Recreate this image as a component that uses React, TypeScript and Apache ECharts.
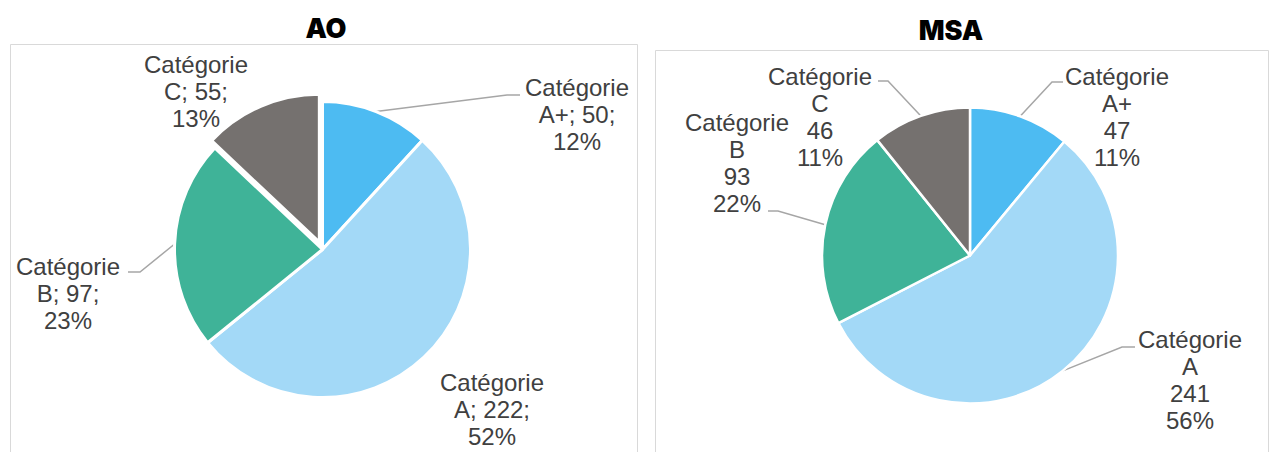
import React, { useEffect, useRef } from 'react';
import * as echarts from 'echarts';

const categories = ['Catégorie A+', 'Catégorie A', 'Catégorie B', 'Catégorie C'];
const aoValues = [50, 222, 97, 55];
const msaValues = [47, 241, 93, 46];
const chartTitles = ['AO', 'MSA'];
const sliceColors = ['#4dbbf2', '#a3d9f7', '#3fb398', '#75716f'];

// label layout per slice (pixels): label centre and leader-line bend points
const aoLabelPos = [
  { x: 577, y: 114, line: [[507, 95], [520, 95]] },
  { x: 492, y: 409, line: null },
  { x: 68, y: 293, line: [[140, 272], [128, 272]] },
  { x: 196, y: 91, line: null },
];
const msaLabelPos = [
  { x: 1117, y: 117, line: [[1052, 82], [1063, 82]] },
  { x: 1190, y: 380, line: [[1122, 347], [1135, 347]] },
  { x: 737, y: 163, line: [[778, 211], [768, 211]] },
  { x: 820, y: 117, line: [[888, 81], [878, 81]] },
];

const labelFont = {
  fontFamily: '"Liberation Sans", Arial, sans-serif',
  fontSize: 24,
  lineHeight: 27,
  color: '#404040',
};

export default function App() {
  const ref = useRef<HTMLDivElement>(null);
  useEffect(() => {
    if (!ref.current) return;
    const chart = echarts.init(ref.current, undefined, { renderer: 'svg' });

    const AO_CENTER: [number, number] = [322.5, 249.5];
    const MSA_CENTER: [number, number] = [970, 255.5];
    const RADIUS = 148;
    const EXPLODE = 8;
    const explodeIdx = 3;

    const makeSeries = (
      values: number[],
      center: [number, number],
      pos: typeof aoLabelPos,
      sep: string,
      borderWidth: number,
      hiddenIdx: number | null
    ) => ({
      type: 'pie',
      center,
      radius: RADIUS,
      startAngle: 90,
      clockwise: true,
      avoidLabelOverlap: false,
      itemStyle: { borderColor: '#ffffff', borderWidth },
      emphasis: { disabled: true },
      label: {
        show: true,
        position: 'outside',
        align: 'center',
        ...labelFont,
        formatter: (p: any) => {
          const cat = String(p.name).replace('Catégorie ', '');
          const pct = Math.round(p.percent);
          return sep === ';'
            ? `Catégorie\n${cat}; ${p.value};\n${pct}%`
            : `Catégorie\n${cat}\n${p.value}\n${pct}%`;
        },
      },
      labelLine: {
        show: true,
        smooth: false,
        lineStyle: { color: '#a6a6a6', width: 1.5 },
      },
      labelLayout: (params: any) => {
        const lp = pos[params.dataIndex];
        const res: any = {
          x: lp.x,
          y: lp.y,
          align: 'center',
          verticalAlign: 'middle',
        };
        if (lp.line && params.labelLinePoints) {
          res.labelLinePoints = [params.labelLinePoints[0], ...lp.line];
        }
        return res;
      },
      data: values.map((v, i) => ({
        name: categories[i],
        value: v,
        itemStyle:
          hiddenIdx === i
            ? { color: 'rgba(0,0,0,0)', borderWidth: 0 }
            : { color: sliceColors[i] },
        labelLine: { show: !!pos[i].line },
      })),
    });

    // exploded slice (AO, Catégorie C): same pie, shifted along its mid-angle
    const total = aoValues.reduce((a, b) => a + b, 0);
    const before = aoValues.slice(0, explodeIdx).reduce((a, b) => a + b, 0);
    const midFrac = (before + aoValues[explodeIdx] / 2) / total;
    const ang = midFrac * 2 * Math.PI;
    const exCenter: [number, number] = [
      AO_CENTER[0] + EXPLODE * Math.sin(ang),
      AO_CENTER[1] - EXPLODE * Math.cos(ang),
    ];
    const explodedSeries = {
      type: 'pie',
      center: exCenter,
      radius: RADIUS,
      startAngle: 90,
      clockwise: true,
      silent: true,
      emphasis: { disabled: true },
      label: { show: false },
      labelLine: { show: false },
      data: aoValues.map((v, i) => ({
        name: categories[i],
        value: v,
        itemStyle:
          i === explodeIdx
            ? { color: sliceColors[i], borderColor: '#ffffff', borderWidth: 3 }
            : { color: 'rgba(0,0,0,0)', borderWidth: 0 },
      })),
    };

    chart.setOption({
      animation: false,
      backgroundColor: '#ffffff',
      graphic: [
        {
          type: 'rect',
          z: -10,
          shape: { x: 10.5, y: 44.5, width: 627, height: 430 },
          style: { fill: 'none', stroke: '#d9d9d9', lineWidth: 1 },
        },
        {
          type: 'rect',
          z: -10,
          shape: { x: 655.5, y: 50.5, width: 613, height: 430 },
          style: { fill: 'none', stroke: '#d9d9d9', lineWidth: 1 },
        },
        {
          type: 'text',
          x: 326,
          y: 28,
          style: {
            text: chartTitles[0],
            align: 'center',
            verticalAlign: 'middle',
            fontFamily: 'Inter, "DejaVu Sans", sans-serif',
            fontWeight: 900,
            fontSize: 27,
            fill: '#000000',
          },
        },
        {
          type: 'text',
          x: 951,
          y: 30,
          style: {
            text: chartTitles[1],
            align: 'center',
            verticalAlign: 'middle',
            fontFamily: 'Inter, "DejaVu Sans", sans-serif',
            fontWeight: 900,
            fontSize: 27,
            fill: '#000000',
          },
        },
      ],
      series: [
        makeSeries(aoValues, AO_CENTER, aoLabelPos, ';', 3, explodeIdx),
        explodedSeries,
        makeSeries(msaValues, MSA_CENTER, msaLabelPos, 'nl', 2.5, null),
      ],
    });
    return () => chart.dispose();
  }, []);

  return (
    <div
      ref={ref}
      style={{ position: 'fixed', left: 0, top: 0, width: 1271, height: 452, background: '#fff' }}
    />
  );
}
